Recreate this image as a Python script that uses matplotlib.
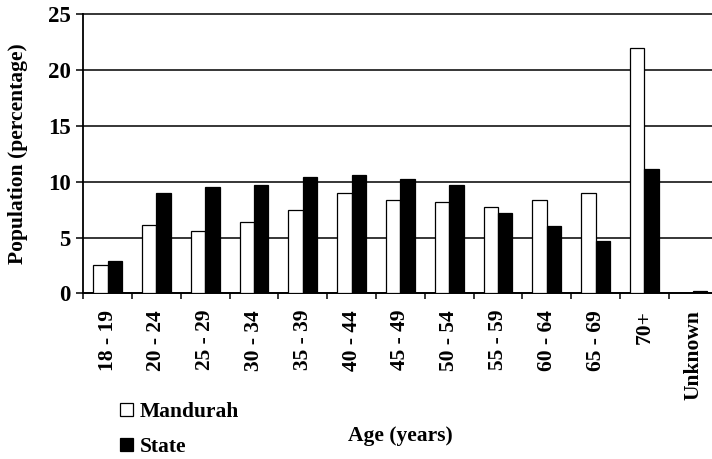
import numpy as np
import matplotlib
matplotlib.use("Agg")
import matplotlib.pyplot as plt
from matplotlib.patches import Patch

plt.rcParams['font.family'] = ['Liberation Serif', 'DejaVu Serif']
plt.rcParams['font.weight'] = 'bold'
plt.rcParams['axes.labelweight'] = 'bold'
plt.rcParams['font.size'] = 15.5

# age groups and share of population (%)
age_groups = ['18 - 19', '20 - 24', '25 - 29', '30 - 34', '35 - 39', '40 - 44',
              '45 - 49', '50 - 54', '55 - 59', '60 - 64', '65 - 69', '70+', 'Unknown']
mandurah = [2.5, 6.1, 5.6, 6.4, 7.5, 9.0, 8.4, 8.2, 7.7, 8.4, 9.0, 22.0, 0.0]
state = [2.9, 9.0, 9.5, 9.7, 10.4, 10.6, 10.2, 9.7, 7.2, 6.0, 4.7, 11.1, 0.2]
y_ticks = [0, 5, 10, 15, 20, 25]

W, H = 712, 459
fig = plt.figure(figsize=(W / 100, H / 100), dpi=100)
# axes runs a little past the right edge, so the last group is cut off
ax = fig.add_axes([83.3 / W, 1 - 293.3 / H, 634.2 / W, 279 / H])

x = np.arange(len(age_groups))
bw = 0.295
ax.bar(x - bw / 2, mandurah, bw, color='white', edgecolor='black', linewidth=0.9, zorder=3)
ax.bar(x + bw / 2, state, bw, color='black', edgecolor='black', linewidth=0.9, zorder=3)

ax.set_xlim(-0.5, len(age_groups) - 0.5)
ax.set_ylim(0, 25)

ax.set_yticks(y_ticks)
ax.tick_params(axis='y', direction='out', length=5, width=1.1, pad=4, labelsize=16.5)
ax.yaxis.grid(True, color='black', linewidth=1.1)
for gl in ax.get_ygridlines():
    gl.set_clip_on(False)
ax.set_axisbelow(True)

# labels at group centres, tick marks on the boundaries
ax.set_xticks(x)
ax.set_xticklabels(age_groups, rotation=90)
ax.tick_params(axis='x', which='major', length=0, pad=12)
ax.set_xticks(np.arange(len(age_groups)) - 0.5, minor=True)
ax.tick_params(axis='x', which='minor', direction='out', length=4, width=1.1)

for side in ['top', 'right']:
    ax.spines[side].set_visible(False)
for side in ['left', 'bottom']:
    ax.spines[side].set_linewidth(1.3)

ax.set_ylabel('Population (percentage)', va='center')
ax.yaxis.set_label_coords((18 - 83.3) / 634.2, 0.5)
ax.set_xlabel('Age (years)', va='center')
ax.xaxis.set_label_coords(0.5, (293.3 - 436) / 279)

handles = [Patch(facecolor='white', edgecolor='black', linewidth=0.9),
           Patch(facecolor='black', edgecolor='black', linewidth=0.9)]
fig.legend(handles, ['Mandurah', 'State'], loc='upper left',
           bbox_to_anchor=(120 / W, 1 - 402 / H), frameon=False,
           handlelength=0.6, handleheight=0.6, handletextpad=0.3,
           labelspacing=0.7, borderpad=0, borderaxespad=0)

fig.savefig('out.png', dpi=100)
